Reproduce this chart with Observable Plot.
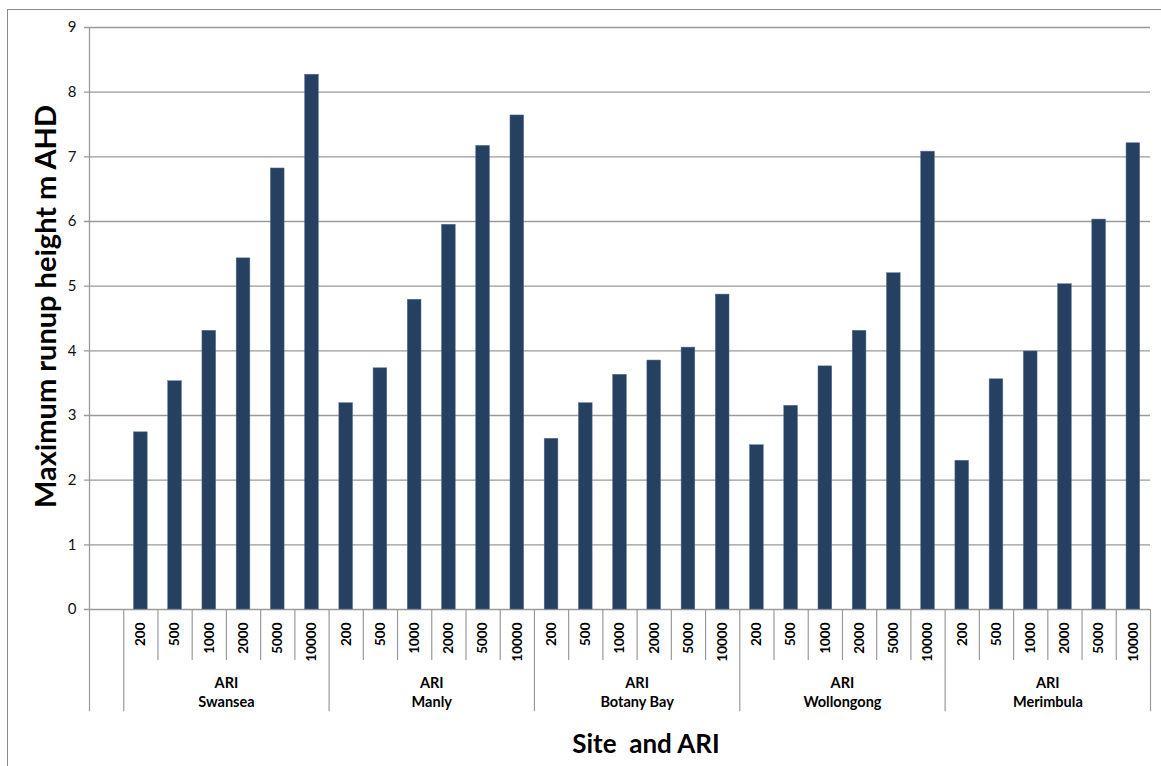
<!DOCTYPE html>
<html>
<head>
<meta charset="utf-8">
<script src="https://cdn.jsdelivr.net/npm/d3@7"></script>
<script src="https://cdn.jsdelivr.net/npm/@observablehq/plot@0.6"></script>
<style>
  html, body { margin: 0; padding: 0; background: #fff; overflow: hidden; }
  #wrap { position: relative; width: 1161px; height: 766px; }
  #border { position: absolute; left: 7px; top: 9px; width: 1200px; height: 800px; border: 1px solid #8a8a8a; pointer-events: none; }
  svg text { white-space: pre; }
</style>
</head>
<body>
<div id="wrap"><div id="border"></div></div>
<script>
const sites = ["Swansea", "Manly", "Botany Bay", "Wollongong", "Merimbula"];
const aris = ["200", "500", "1000", "2000", "5000", "10000"];
const swansea = [2.74, 3.53, 4.31, 5.43, 6.82, 8.27];
const manly = [3.19, 3.73, 4.79, 5.95, 7.17, 7.64];
const botanyBay = [2.64, 3.19, 3.63, 3.85, 4.05, 4.87];
const wollongong = [2.54, 3.15, 3.76, 4.31, 5.20, 7.08];
const merimbula = [2.30, 3.56, 3.99, 5.03, 6.03, 7.21];
const yTicks = [0, 1, 2, 3, 4, 5, 6, 7, 8, 9];

const seriesBySite = [swansea, manly, botanyBay, wollongong, merimbula];
// slot 0 is an empty category; data slots start at 1
const rows = [];
sites.forEach((s, si) => aris.forEach((a, ai) => {
  rows.push({site: s, ari: a, value: seriesBySite[si][ai], slot: 1 + si * 6 + ai});
}));
const nSlots = 1 + sites.length * aris.length;
const groups = sites.map((s, si) => ({site: s, label: "ARI\n" + s, center: 1 + si * 6 + aris.length / 2}));
const groupBounds = [0, ...sites.map((s, si) => 1 + si * 6), nSlots];
const innerBounds = rows.map(r => r.slot).filter(v => !groupBounds.includes(v));

const font = "Lato, 'Open Sans', sans-serif";
const ink = "#000";
const grey = "#9a9a9a";

const chart = Plot.plot({
  width: 1161,
  height: 766,
  marginLeft: 89,
  marginRight: 11,
  marginTop: 27,
  marginBottom: 157,
  style: {fontFamily: font, background: "transparent", overflow: "visible"},
  x: {type: "linear", domain: [0, nSlots], axis: null},
  y: {domain: [0, 9], axis: null},
  marks: [
    // horizontal gridlines (incl. 0 axis), extending slightly left as tick marks
    Plot.ruleY(yTicks, {y: d => d, x1: -0.15, x2: nSlots, stroke: grey, strokeWidth: 1.3}),
    Plot.ruleX([0], {y1: 0, y2: 9, stroke: grey, strokeWidth: 1.3}),
    // bars
    Plot.rectY(rows, {x1: d => d.slot + 0.3, x2: d => d.slot + 0.7, y1: 0, y2: "value", fill: "#264061", stroke: "#5a7090", strokeWidth: 0.5}),
    // y tick labels
    Plot.text(yTicks, {x: 0, y: d => d, text: d => String(d), textAnchor: "end", dx: -13, fontSize: 15, fill: "#111"}),
    // category axis: inner boundaries (short) and group boundaries (long)
    Plot.ruleX(innerBounds, {x: d => d, y1: 0, y2: -0.79, stroke: grey, strokeWidth: 1.2}),
    Plot.ruleX(groupBounds, {x: d => d, y1: 0, y2: -1.58, stroke: grey, strokeWidth: 1.2}),
    // rotated ARI labels
    Plot.text(rows, {x: d => d.slot + 0.5, y: 0, text: "ari", rotate: -90, textAnchor: "end", lineAnchor: "middle", dy: 13, fontSize: 13.5, fontWeight: "bold", fill: ink}),
    // group labels
    Plot.text(groups, {x: "center", y: 0, text: "label", dy: 82, lineAnchor: "middle", lineHeight: 1.3, fontSize: 14.5, fontWeight: "bold", fill: ink}),
    // axis titles
    Plot.text(["Maximum runup height m AHD"], {frameAnchor: "left", rotate: -90, textAnchor: "middle", lineAnchor: "middle", dx: -43, dy: -12, fontSize: 29, fontWeight: "bold", fill: ink}),
    Plot.text(["Site  and ARI"], {frameAnchor: "bottom", dx: 26, dy: 143, fontSize: 26, fontWeight: "bold", fill: ink})
  ]
});
document.getElementById("wrap").prepend(chart);
</script>
</body>
</html>
